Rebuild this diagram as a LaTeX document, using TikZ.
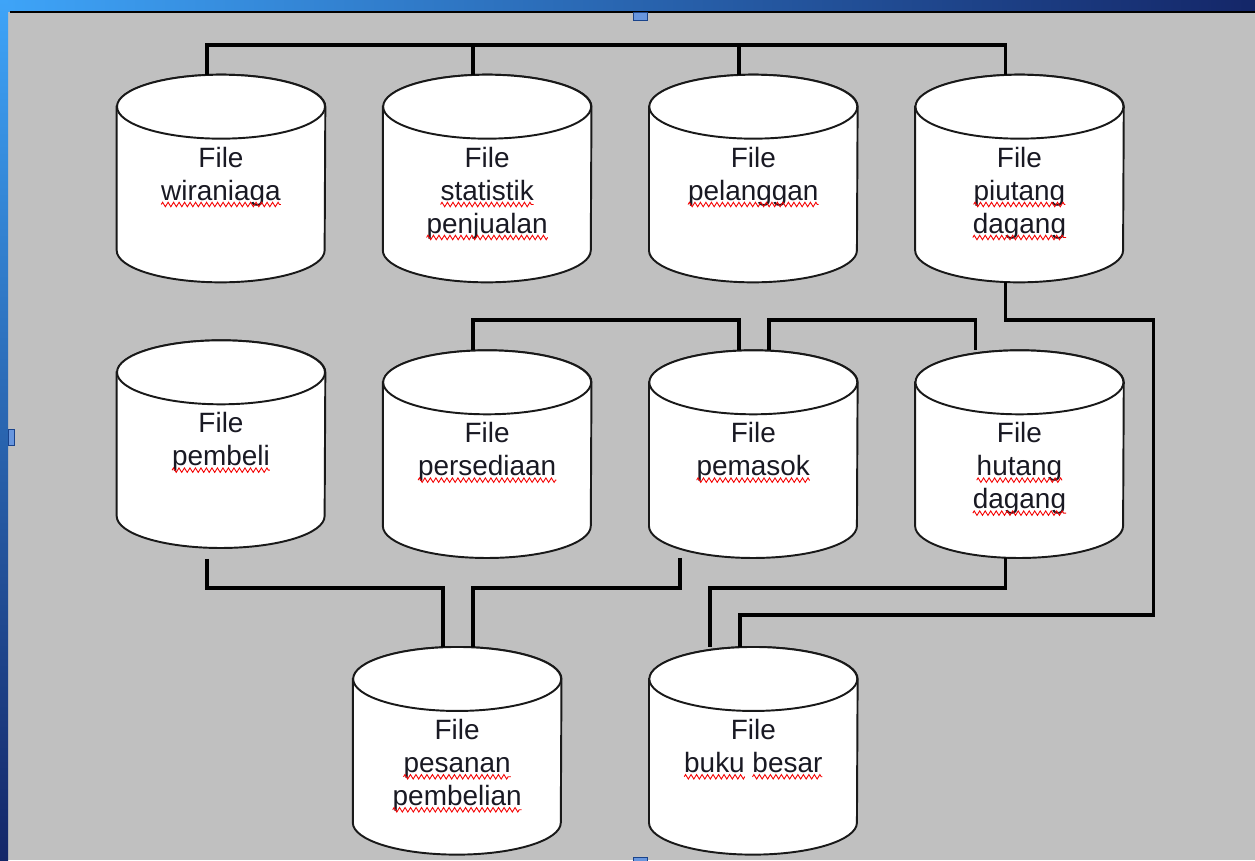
\documentclass[tikz,border=0pt]{standalone}
\usepackage{fontspec}
\setmainfont{Liberation Sans}
\usepackage{tikz}
\usetikzlibrary{positioning, backgrounds, decorations.pathmorphing}
\definecolor{mybg}{RGB}{192,192,192}
\definecolor{myline}{RGB}{25,25,25}
\definecolor{myink}{RGB}{25,25,35}
\definecolor{myspell}{RGB}{245,0,0}
\definecolor{mysky}{RGB}{62,164,248}
\definecolor{myblue}{RGB}{42,112,232}
\definecolor{mynavy}{RGB}{20,38,104}
\definecolor{myhandle}{RGB}{104,150,222}
\newcommand{\storefont}{\fontsize{15.9}{18.8}\selectfont}
\newcommand{\fname}[1]{\begin{tabular}[t]{@{}c@{}}#1\end{tabular}}
\tikzset{
  store/.style={rectangle, minimum width=4.16cm, minimum height=4.14cm,
    inner sep=0pt, text height=0pt, text depth=0.46cm, text=myink,
    font=\storefont},
  tank/.style={fill=white, draw=myline, line width=1.1pt},
  wire/.style={draw=black, line width=2.2pt},
  spell/.style={draw=myspell, line width=0.5pt, decorate,
    decoration={zigzag, amplitude=0.045cm, segment length=0.11cm}}
}

\begin{document}
\begin{tikzpicture}[x=0.02cm, y=-0.02cm, node distance=1.15cm]
  \useasboundingbox (0,0) rectangle (1255,860);
  % slide area and window edges
  \begin{scope}[on background layer]
    \fill[mybg] (8,12) rectangle (1255,860);
    \shade[left color=mysky, middle color=mysky!70!myblue, right color=mynavy] (0,0) rectangle (1255,11);
    \shade[top color=mysky, middle color=myblue, bottom color=mynavy] (0,0) rectangle (8,860);
    \draw[black, line width=0.8pt] (10,12) -- (1255,12);
    \filldraw[fill=myhandle, draw=myblue!60!black] (633,12) rectangle (647,20);
    \filldraw[fill=myhandle, draw=myblue!60!black] (8,429) rectangle (14,445);
    \filldraw[fill=myhandle, draw=myblue!60!black] (633,857) rectangle (647,862);
  \end{scope}

  % top row
  \node[store] (wira) at (221,178.5) {\fname{File\\wiraniaga}};
  \node[store, right=of wira] (stat) {\fname{File\\statistik\\penjualan}};
  \node[store, right=of stat] (plg) {\fname{File\\pelanggan}};
  \node[store, right=of plg] (piut) {\fname{File\\piutang\\dagang}};

  % middle row
  \node[store, below=1.16cm of wira] (beli) {\fname{File\\pembeli}};
  \node[store, below=1.36cm of stat] (sedia) {\fname{File\\persediaan}};
  \node[store, below=1.36cm of plg] (pasok) {\fname{File\\pemasok}};
  \node[store, below=1.36cm of piut] (hut) {\fname{File\\hutang\\dagang}};

  % bottom row
  \node[store, below=1.78cm of sedia, xshift=-0.6cm] (pesan) {\fname{File\\pesanan\\pembelian}};
  \node[store, below=1.78cm of pasok] (buku) {\fname{File\\buku besar}};

  % red spelling marks under the names
  \foreach \n/\dy/\w in {wira/-0.52/wiraniaga, stat/-0.52/statistik, stat/-1.18/penjualan,
      plg/-0.52/pelanggan, piut/-0.52/piutang, piut/-1.18/dagang, beli/-0.52/pembeli,
      sedia/-0.52/persediaan, pasok/-0.52/pemasok, hut/-0.52/hutang, hut/-1.18/dagang,
      pesan/-0.52/pesanan, pesan/-1.18/pembelian}{
    \storefont
    \pgfmathsetmacro{\hw}{width("\w")/2}
    \draw[spell] ([xshift=-\hw pt, yshift=\dy cm]\n.center) -- ([xshift=\hw pt, yshift=\dy cm]\n.center);
  }
  {\storefont
  \pgfmathsetmacro{\hw}{width("buku besar")/2}
  \pgfmathsetmacro{\wa}{width("buku")}
  \pgfmathsetmacro{\wb}{width("besar")}
  \draw[spell] ([xshift=-\hw pt, yshift=-0.52cm]buku.center) -- ([xshift=-\hw pt+\wa pt, yshift=-0.52cm]buku.center);
  \draw[spell] ([xshift=\hw pt-\wb pt, yshift=-0.52cm]buku.center) -- ([xshift=\hw pt, yshift=-0.52cm]buku.center);
  }

  % drums and links
  \begin{scope}[on background layer]
    \foreach \n in {wira,stat,plg,piut,beli,sedia,pasok,hut,pesan,buku}{
      \path[tank] ([yshift=-0.64cm]\n.north west) -- ([yshift=0.64cm]\n.south west)
        arc[start angle=180, end angle=360, x radius=2.08cm, y radius=0.64cm]
        -- ([yshift=-0.64cm]\n.north east)
        arc[start angle=0, end angle=180, x radius=2.08cm, y radius=0.64cm] -- cycle;
      \path[tank] ([yshift=-0.64cm]\n.north) ellipse[x radius=2.08cm, y radius=0.64cm];
    }

    \draw[wire] ([xshift=-0.28cm]wira.north) -- ++(0,-30) -| ([xshift=-0.28cm]piut.north);
    \draw[wire] ([xshift=-0.28cm]stat.north) -- ++(0,-30);
    \draw[wire] ([xshift=-0.28cm]plg.north) -- ++(0,-30);

    \draw[wire] ([xshift=-0.28cm]sedia.north) -- ++(0,-30) -| ([xshift=-0.28cm]pasok.north);
    \draw[wire] ([xshift=0.32cm]pasok.north) -- ++(0,-30) -| ([xshift=-0.88cm]hut.north);
    \draw[wire] ([xshift=-0.28cm]piut.south) -- ++(0,38) -| ++(148,295) -| ([xshift=-0.26cm]buku.north);

    \draw[wire] ([xshift=-0.28cm, yshift=-0.22cm]beli.south) -- ++(0,29) -| ([xshift=-0.28cm]pesan.north);
    \draw[wire] ([xshift=-1.46cm]pasok.south) -- ++(0,30) -| ([xshift=0.32cm]pesan.north);
    \draw[wire] ([xshift=-0.28cm]hut.south) -- ++(0,30) -| ([xshift=-0.86cm]buku.north);
  \end{scope}
\end{tikzpicture}
\end{document}
